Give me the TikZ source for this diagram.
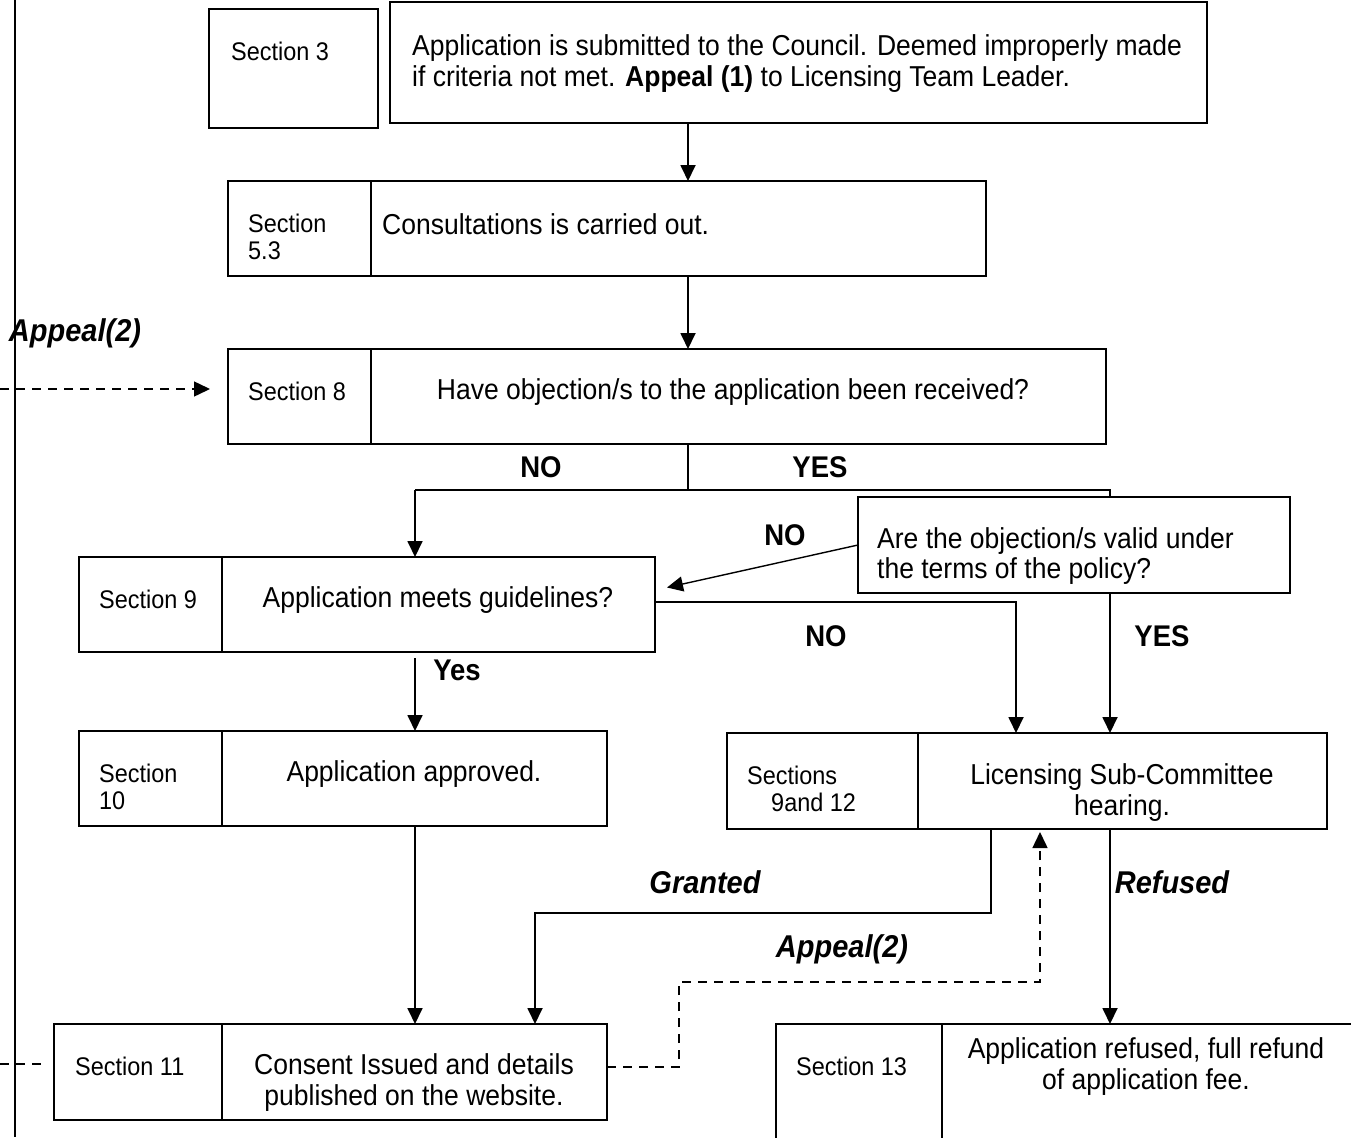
\documentclass[tikz,border=0pt]{standalone}
\usepackage{fontspec}
\setmainfont{Liberation Sans}[FakeStretch=0.92]
\usetikzlibrary{arrows.meta}
\begin{document}
\begin{tikzpicture}[x=1pt,y=-1pt,
        box/.style={draw,line width=1.8pt,anchor=north west,inner sep=0pt,outer sep=0pt},
        sec/.style={anchor=west,inner sep=0pt,align=left,font=\fontsize{25.5}{27}\selectfont},
        txt/.style={inner sep=0pt,align=center,font=\fontsize{28.8}{31}\selectfont},
        yn/.style={inner sep=0pt,font=\fontsize{29.9}{30}\selectfont\bfseries},
        res/.style={inner sep=0pt,font=\fontsize{31.5}{32}\selectfont\bfseries\itshape},
        ln/.style={line width=1.8pt},
        arr/.style={line width=1.8pt,-{Triangle[length=16pt,width=15pt]}},
        dsh/.style={line width=1.5pt,dash pattern=on 9pt off 7pt},
        dasharr/.style={dsh,-{Triangle[length=16pt,width=15pt]}}]
    \useasboundingbox (0,0) rectangle (1351,1137);
    % boxes
    \node[box,minimum width=169pt,minimum height=119pt] (s3) at (209,9) {};
    \node[box,minimum width=817pt,minimum height=121pt] (app) at (390,2) {};
    \node[box,minimum width=143pt,minimum height=95pt] (s53) at (228,181) {};
    \node[box,minimum width=615pt,minimum height=95pt] (cons) at (371,181) {};
    \node[box,minimum width=143pt,minimum height=95pt] (s8) at (228,349) {};
    \node[box,minimum width=735pt,minimum height=95pt] (obj) at (371,349) {};
    \node[box,minimum width=143pt,minimum height=95pt] (s9) at (79,557) {};
    \node[box,minimum width=433pt,minimum height=95pt] (guide) at (222,557) {};
    \node[box,minimum width=432pt,minimum height=96pt] (valid) at (858,497) {};
    \node[box,minimum width=143pt,minimum height=95pt] (s10) at (79,731) {};
    \node[box,minimum width=385pt,minimum height=95pt] (appr) at (222,731) {};
    \node[box,minimum width=191pt,minimum height=96pt] (s912) at (727,733) {};
    \node[box,minimum width=409pt,minimum height=96pt] (hear) at (918,733) {};
    \node[box,minimum width=168pt,minimum height=96pt] (s11) at (54,1024) {};
    \node[box,minimum width=385pt,minimum height=96pt] (issued) at (222,1024) {};
    \node[box,minimum width=166pt,minimum height=140pt] (s13) at (776,1024) {};
    \node[box,minimum width=440pt,minimum height=140pt] (refuse) at (942,1024) {};
    % texts
    \node[sec] (s3t) at (231,51) {Section 3};
    \node[txt,align=left,anchor=west] (appt) at (412,64) {Application is submitted to the Council. Deemed improperly made\\if criteria not met. \textbf{Appeal (1)} to Licensing Team Leader.};
    \node[sec] (s53t) at (248,237) {Section\\5.3};
    \node[txt,anchor=west] (const) at (382,224) {Consultations is carried out.};
    \node[sec] (s8t) at (248,391) {Section 8};
    \node[txt] (objt) at (733,392) {Have objection/s to the application been received?};
    \node[sec] (s9t) at (99,599) {Section 9};
    \node[txt] (guidet) at (438,600) {Application meets guidelines?};
    \node[txt,align=left,anchor=west,font=\fontsize{28.8}{30}\selectfont] (validt) at (877,556) {Are the objection/s valid under\\the terms of the policy?};
    \node[sec] (s10t) at (99,787) {Section\\10};
    \node[txt] (apprt) at (414,774) {Application approved.};
    \node[sec] (s912t) at (747,789) {Sections\\\hspace*{24pt}9and 12};
    \node[txt] (heart) at (1122,793) {Licensing Sub-Committee\\hearing.};
    \node[sec] (s11t) at (75,1066) {Section 11};
    \node[txt] (issuedt) at (414,1083) {Consent Issued and details\\published on the website.};
    \node[sec] (s13t) at (796,1066) {Section 13};
    \node[txt] (refuset) at (1146,1067) {Application refused, full refund\\of application fee.};
    % labels
    \node[yn] (no1) at (541,467) {NO};
    \node[yn] (yes1) at (820,467) {YES};
    \node[yn] (no2) at (785,535) {NO};
    \node[yn] (no3) at (826,636) {NO};
    \node[yn] (yes2) at (1162,636) {YES};
    \node[yn] (yes3) at (457,670) {Yes};
    \node[res] (appeal1) at (75,333) {Appeal(2)};
    \node[res] (granted) at (705,882) {Granted};
    \node[res] (refused) at (1172,882) {Refused};
    \node[res] (appeal2) at (842,949) {Appeal(2)};
    % columns and bends
    \coordinate (xm) at (688,490);
    \coordinate (xl) at (415,490);
    \coordinate (xr) at (1110,490);
    \coordinate (xno) at (1016,602);
    \coordinate (gk) at (991,913);
    \coordinate (xi) at (535,913);
    \coordinate (ak1) at (679,1067);
    \coordinate (ak2) at (1040,982);
    \coordinate (lf) at (0,389);
    \coordinate (lf2) at (0,1064);
    % connectors
    \draw[ln] (15,0) -- (15,1137);
    \draw[arr] (app.south -| xm) -- (cons.north -| xm);
    \draw[arr] (cons.south -| xm) -- (obj.north -| xm);
    \draw[ln] (obj.south -| xm) -- (xm);
    \draw[ln] (xl) -- (xr) -- (valid.north -| xr);
    \draw[arr] (xl) -- (guide.north -| xl);
    \draw[arr,line width=1.4pt] (valid.west) -- ([xshift=12pt,yshift=17pt]guide.east);
    \draw[arr] (guide.east |- xno) -| (hear.north -| xno);
    \draw[arr] (valid.south -| xr) -- (hear.north -| xr);
    \draw[arr] ([yshift=-6pt]guide.south -| xl) -- (appr.north -| xl);
    \draw[arr] (appr.south -| xl) -- (issued.north -| xl);
    \draw[arr] (hear.south -| gk) -- (gk) -| (issued.north -| xi);
    \draw[arr] (hear.south -| xr) -- (refuse.north -| xr);
    \draw[dasharr] (issued.east |- ak1) -- (ak1) |- (ak2) -- ([yshift=-3pt]hear.south -| ak2);
    \draw[dasharr] (lf) -- ([xshift=-18pt]s8.west |- lf);
    \draw[dsh] (lf2) -- ([xshift=-12pt]s11.west |- lf2);
\end{tikzpicture}
\end{document}
